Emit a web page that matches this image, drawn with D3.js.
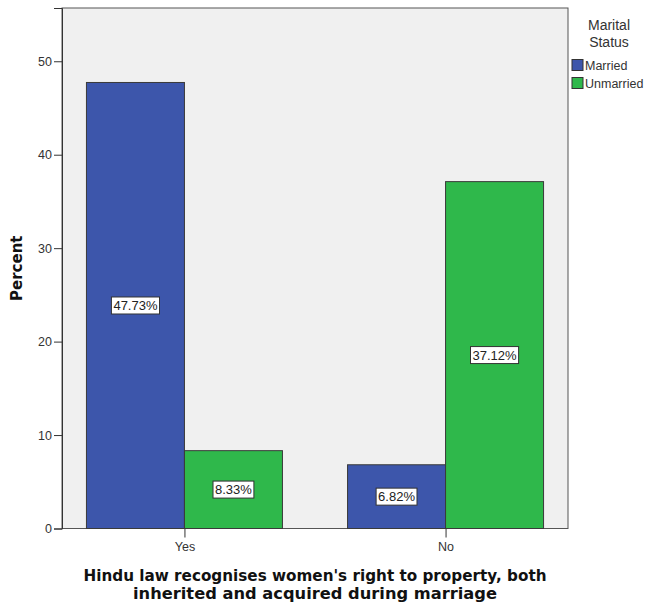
<!DOCTYPE html>
<html>
<head>
<meta charset="utf-8">
<script src="https://cdn.jsdelivr.net/npm/d3@7"></script>
<style>
  html, body { margin: 0; padding: 0; background: #ffffff; }
  svg { display: block; }
</style>
</head>
<body>
<svg id="chart" width="648" height="608"></svg>
<script>
// Responses to the statement, grouped by marital status (percent of all respondents)
const categories = ["Yes", "No"];
const seriesNames = ["Married", "Unmarried"];
const married = [47.73, 6.82];
const unmarried = [8.33, 37.12];
const yTicks = [0, 10, 20, 30, 40, 50];
const colors = ["#3d56ab", "#2fb84b"];

const svg = d3.select("#chart");
const plot = { left: 62, right: 568, top: 8, bottom: 528.5 };
const font = "Arial, 'Liberation Sans', sans-serif";

const x = d3.scalePoint().domain(categories).range([plot.left, plot.right]).padding(0.469);
const barW = 98;
const xs = d3.scaleBand().domain(seriesNames).range([-barW, barW]).padding(0);
const y = d3.scaleLinear().domain([0, 55.7]).range([plot.bottom, plot.top]);

// plot background
svg.append("rect")
  .attr("x", plot.left).attr("y", plot.top)
  .attr("width", plot.right - plot.left).attr("height", plot.bottom - plot.top)
  .attr("fill", "#f0f0f0").attr("stroke", "#555").attr("stroke-width", 1);

const rows = categories.map((c, i) => ({ cat: c, values: [married[i], unmarried[i]] }));

const groups = svg.append("g").selectAll("g").data(rows).join("g")
  .attr("transform", d => `translate(${x(d.cat)},0)`);

groups.selectAll("rect").data(d => d.values.map((v, j) => ({ v, s: seriesNames[j], j })))
  .join("rect")
  .attr("x", d => xs(d.s))
  .attr("y", d => y(d.v))
  .attr("width", xs.bandwidth())
  .attr("height", d => y(0) - y(d.v))
  .attr("fill", d => colors[d.j])
  .attr("stroke", "#3a3a3a").attr("stroke-width", 1);

// value labels in white boxes at half bar height
const labels = groups.selectAll("g.lab").data(d => d.values.map((v, j) => ({ v, s: seriesNames[j] })))
  .join("g").attr("class", "lab")
  .attr("transform", d => `translate(${xs(d.s) + xs.bandwidth() / 2},${y(d.v / 2)})`);
labels.each(function(d) {
  const g = d3.select(this);
  const t = g.append("text")
    .attr("text-anchor", "middle").attr("dy", "0.36em")
    .attr("font-family", font).attr("font-size", 13).attr("fill", "#222")
    .text(d.v.toFixed(2) + "%");
  const w = t.node().getComputedTextLength() + 4;
  g.insert("rect", "text")
    .attr("x", -w / 2).attr("y", -8.5).attr("width", w).attr("height", 17)
    .attr("fill", "#fff").attr("stroke", "#333").attr("stroke-width", 1);
});

// axes
const yAxis = d3.axisLeft(y).tickValues(yTicks).tickSize(8).tickPadding(2).tickFormat(d3.format("d"));
const gy = svg.append("g").attr("transform", `translate(${plot.left},0)`).call(yAxis);
gy.select(".domain").attr("stroke", "#333");
gy.selectAll(".tick line").attr("stroke", "#333");
gy.selectAll("text").attr("font-family", font).attr("font-size", 12.5).attr("fill", "#333");

const xAxis = d3.axisBottom(x).tickSize(9).tickPadding(5);
const gx = svg.append("g").attr("transform", `translate(0,${plot.bottom})`).call(xAxis);
gx.select(".domain").remove();
gx.selectAll(".tick line").attr("stroke", "#333");
gx.selectAll("text").attr("font-family", font).attr("font-size", 12.5).attr("fill", "#333");

// axis titles
svg.append("text")
  .attr("transform", `translate(22,${(plot.top + plot.bottom) / 2}) rotate(-90)`)
  .attr("text-anchor", "middle")
  .attr("font-family", "'DejaVu Sans', sans-serif").attr("font-weight", "bold").attr("font-size", 15)
  .attr("fill", "#111")
  .text("Percent");

const xTitle = ["Hindu law recognises women's right to property, both",
                "inherited and acquired during marriage"];
const xTitleW = [463, 364];
xTitle.forEach((line, i) => {
  svg.append("text")
    .attr("x", 315).attr("y", 581 + i * 17.5)
    .attr("text-anchor", "middle")
    .attr("font-family", "'DejaVu Sans', sans-serif").attr("font-weight", "bold").attr("font-size", 16.5)
    .attr("fill", "#111")
    .attr("textLength", xTitleW[i]).attr("lengthAdjust", "spacingAndGlyphs")
    .text(line);
});

// legend
const legend = svg.append("g");
["Marital", "Status"].forEach((t, i) => {
  legend.append("text")
    .attr("x", 609).attr("y", 30 + i * 17)
    .attr("text-anchor", "middle")
    .attr("font-family", font).attr("font-size", 14).attr("fill", "#333")
    .text(t);
});
seriesNames.forEach((s, i) => {
  legend.append("rect")
    .attr("x", 572).attr("y", 59.5 + i * 18).attr("width", 11).attr("height", 11)
    .attr("fill", colors[i]).attr("stroke", "#333").attr("stroke-width", 1);
  legend.append("text")
    .attr("x", 585).attr("y", 65 + i * 18).attr("dy", "0.36em")
    .attr("font-family", font).attr("font-size", 12.5).attr("fill", "#333")
    .text(s);
});
</script>
</body>
</html>
